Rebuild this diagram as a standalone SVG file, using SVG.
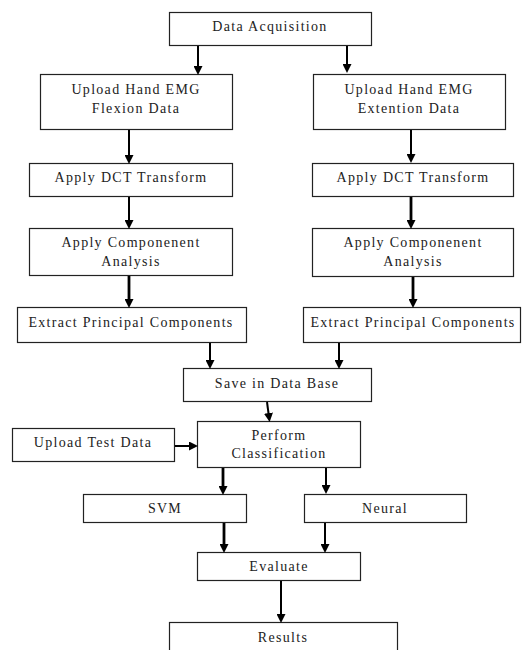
<svg xmlns="http://www.w3.org/2000/svg" width="522" height="650" viewBox="0 0 522 650">
<style>
.box{fill:#fff;stroke:#222;stroke-width:1.2}
.t{font-size:14px;letter-spacing:1.3px;fill:#222;text-anchor:middle}
.c{stroke:#000;stroke-width:2;fill:none;marker-end:url(#ah)}
.k{stroke-width:2.8}
</style>
<defs>
<marker id="ah" markerUnits="userSpaceOnUse" markerWidth="9" markerHeight="9" refX="4" refY="4.5" orient="auto" viewBox="0 0 9 9">
<path d="M0,0 L9,4.5 L0,9 z" fill="#000"/>
</marker>
</defs>
<rect width="522" height="650" fill="#fff"/>
<g font-family="'Liberation Serif', 'DejaVu Serif', serif">
<g id="n-acq"><rect class="box" x="169.5" y="12.5" width="202" height="33"/><text class="t" x="270" y="31">Data Acquisition</text></g>
<g id="n-flex"><rect class="box" x="40.5" y="74.5" width="192" height="55"/><text class="t" x="136" y="94">Upload Hand EMG</text><text class="t" x="136" y="113">Flexion Data</text></g>
<g id="n-ext"><rect class="box" x="313.5" y="74.5" width="192" height="55"/><text class="t" x="409" y="94">Upload Hand EMG</text><text class="t" x="409" y="113">Extention Data</text></g>
<g id="n-dct1"><rect class="box" x="29.5" y="163.5" width="203" height="33"/><text class="t" x="131" y="182">Apply DCT Transform</text></g>
<g id="n-dct2"><rect class="box" x="312.5" y="163.5" width="201" height="33"/><text class="t" x="413" y="182">Apply DCT Transform</text></g>
<g id="n-comp1"><rect class="box" x="29.5" y="228.5" width="203" height="47"/><text class="t" x="131" y="247">Apply Componenent</text><text class="t" x="131" y="266">Analysis</text></g>
<g id="n-comp2"><rect class="box" x="312.5" y="228.5" width="201" height="48"/><text class="t" x="413" y="247">Apply Componenent</text><text class="t" x="413" y="266">Analysis</text></g>
<g id="n-pc1"><rect class="box" x="17.5" y="307.5" width="229" height="35"/><text class="t" x="131" y="327">Extract Principal Components</text></g>
<g id="n-pc2"><rect class="box" x="303.5" y="307.5" width="217" height="35"/><text class="t" x="413" y="327">Extract Principal Components</text></g>
<g id="n-save"><rect class="box" x="183.5" y="368.5" width="188" height="33"/><text class="t" x="277" y="388">Save in Data Base</text></g>
<g id="n-test"><rect class="box" x="12.5" y="428.5" width="162" height="33"/><text class="t" x="93" y="447">Upload Test Data</text></g>
<g id="n-class"><rect class="box" x="197.5" y="421.5" width="163" height="46"/><text class="t" x="279" y="440">Perform</text><text class="t" x="279" y="458">Classification</text></g>
<g id="n-svm"><rect class="box" x="83.5" y="494.5" width="163" height="28"/><text class="t" x="165" y="512.5">SVM</text></g>
<g id="n-neural"><rect class="box" x="304.5" y="494.5" width="162" height="28"/><text class="t" x="385" y="512.5">Neural</text></g>
<g id="n-eval"><rect class="box" x="197.5" y="552.5" width="163" height="28"/><text class="t" x="279" y="571">Evaluate</text></g>
<g id="n-res"><rect class="box" x="169.5" y="622.5" width="228" height="30"/><text class="t" x="283" y="642">Results</text></g>
</g>
<g id="connectors">
<line class="c" x1="198" y1="46" x2="198" y2="70"/>
<line class="c" x1="347" y1="46" x2="347" y2="68"/>
<line class="c" x1="129" y1="130" x2="129" y2="159"/>
<line class="c" x1="411" y1="130" x2="411" y2="158"/>
<line class="c" x1="129" y1="197" x2="129" y2="224"/>
<line class="c k" x1="411" y1="197" x2="411" y2="224"/>
<line class="c k" x1="129" y1="276" x2="129" y2="303"/>
<line class="c k" x1="413" y1="277" x2="413" y2="303"/>
<line class="c" x1="210" y1="343" x2="210" y2="364"/>
<line class="c" x1="339" y1="343" x2="339" y2="364"/>
<line class="c" x1="267" y1="402" x2="269" y2="417"/>
<line class="c" x1="175" y1="446" x2="193" y2="446"/>
<line class="c k" x1="223" y1="468" x2="223" y2="490"/>
<line class="c" x1="326" y1="468" x2="326" y2="489"/>
<line class="c k" x1="224" y1="523" x2="224" y2="548"/>
<line class="c" x1="325" y1="523" x2="325" y2="548"/>
<line class="c" x1="281" y1="581" x2="281" y2="618"/>
</g>
</svg>
